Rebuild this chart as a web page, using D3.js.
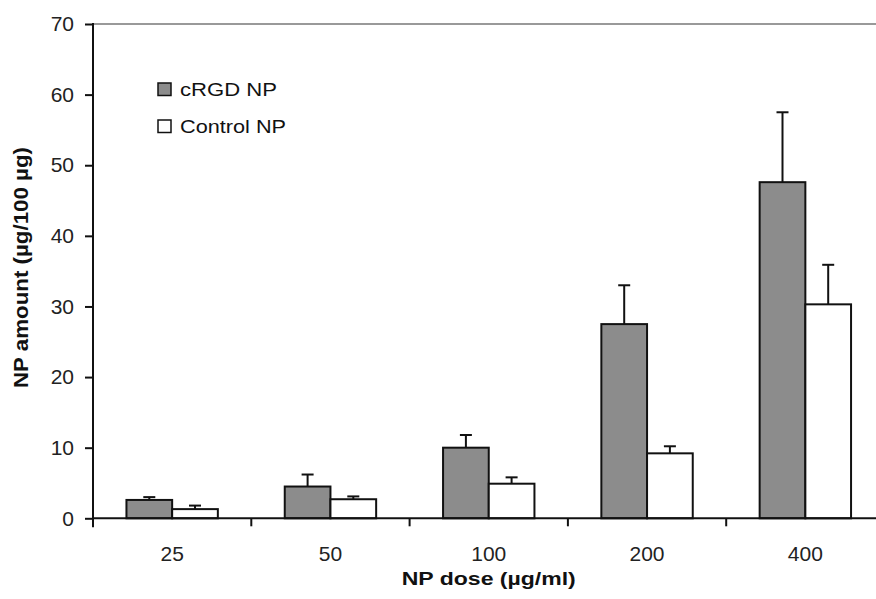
<!DOCTYPE html>
<html>
<head>
<meta charset="utf-8">
<script src="https://cdn.jsdelivr.net/npm/d3@7"></script>
<style>
  html, body { margin: 0; padding: 0; background: #fff; }
  svg { display: block; font-family: "Liberation Sans", Arial, sans-serif; }
</style>
</head>
<body>
<svg id="chart" width="876" height="599"></svg>
<script>
const categories = ["25", "50", "100", "200", "400"];
const seriesNames = ["cRGD NP", "Control NP"];
const cRGD = [2.6, 4.5, 10.0, 27.5, 47.6];
const cRGDErr = [0.4, 1.7, 1.8, 5.5, 9.9];
const control = [1.3, 2.7, 4.9, 9.2, 30.3];
const controlErr = [0.5, 0.4, 0.9, 1.0, 5.6];
const yTicks = [0, 10, 20, 30, 40, 50, 60, 70];
const seriesFill = ["#8c8c8c", "#ffffff"];

const svg = d3.select("#chart");
const plotLeft = 93, plotTop = 24, plotBottom = 518.3, bandStep = 158.3;

const x = d3.scaleBand().domain(categories)
  .range([plotLeft, plotLeft + bandStep * categories.length]).padding(0);
const x1 = d3.scaleBand().domain(seriesNames)
  .range([0, x.bandwidth()]).paddingInner(0).paddingOuter(0.732);
const y = d3.scaleLinear().domain([0, 70]).range([plotBottom, plotTop]);

const rows = categories.map((c, i) => ({
  cat: c,
  vals: [
    { s: seriesNames[0], v: cRGD[i], e: cRGDErr[i] },
    { s: seriesNames[1], v: control[i], e: controlErr[i] }
  ]
}));

// top border line
svg.append("line")
  .attr("x1", plotLeft).attr("x2", 876)
  .attr("y1", y(70)).attr("y2", y(70))
  .attr("stroke", "#777").attr("stroke-width", 1.5);

const g = svg.append("g");
// error bars
rows.forEach(r => {
  r.vals.forEach(d => {
    const cx = x(r.cat) + x1(d.s) + x1.bandwidth() / 2;
    g.append("line")
      .attr("x1", cx).attr("x2", cx)
      .attr("y1", y(d.v)).attr("y2", y(d.v + d.e))
      .attr("stroke", "#111").attr("stroke-width", 2);
    g.append("line")
      .attr("x1", cx - 6).attr("x2", cx + 6)
      .attr("y1", y(d.v + d.e)).attr("y2", y(d.v + d.e))
      .attr("stroke", "#111").attr("stroke-width", 2);
  });
});

// bars
rows.forEach(r => {
  r.vals.forEach((d, j) => {
    g.append("rect")
      .attr("x", x(r.cat) + x1(d.s))
      .attr("y", y(d.v))
      .attr("width", x1.bandwidth())
      .attr("height", y(0) - y(d.v))
      .attr("fill", seriesFill[j])
      .attr("stroke", "#111").attr("stroke-width", 2);
  });
});

// y axis
const yAxis = svg.append("g").attr("transform", `translate(${plotLeft},0)`)
  .call(d3.axisLeft(y).tickValues(yTicks).tickSize(8).tickPadding(11).tickFormat(d3.format("d")));
yAxis.select(".domain").remove();
yAxis.selectAll(".tick line").attr("stroke", "#111").attr("stroke-width", 2);
yAxis.selectAll(".tick text").attr("font-size", 21).attr("fill", "#222")
  .attr("font-family", "Liberation Sans, Arial, sans-serif");
svg.append("line").attr("x1", plotLeft).attr("x2", plotLeft)
  .attr("y1", plotTop - 1).attr("y2", plotBottom + 9)
  .attr("stroke", "#111").attr("stroke-width", 2);

// x axis
svg.append("line").attr("x1", plotLeft).attr("x2", 876)
  .attr("y1", plotBottom).attr("y2", plotBottom)
  .attr("stroke", "#111").attr("stroke-width", 2);
categories.forEach((c, i) => {
  if (i > 0) {
    svg.append("line")
      .attr("x1", x(c)).attr("x2", x(c))
      .attr("y1", plotBottom).attr("y2", plotBottom + 8)
      .attr("stroke", "#111").attr("stroke-width", 2);
  }
  svg.append("text")
    .attr("x", x(c) + x.bandwidth() / 2)
    .attr("y", 561)
    .attr("text-anchor", "middle")
    .attr("font-size", 21).attr("fill", "#222")
    .text(c);
});

// axis titles
svg.append("text")
  .attr("x", (x.range()[0] + x.range()[1]) / 2)
  .attr("y", 585)
  .attr("text-anchor", "middle")
  .attr("font-size", 19).attr("font-weight", "bold").attr("fill", "#111")
  .attr("textLength", 174).attr("lengthAdjust", "spacingAndGlyphs")
  .text("NP dose (µg/ml)");
svg.append("text")
  .attr("transform", `translate(28,267.5) rotate(-90)`)
  .attr("text-anchor", "middle")
  .attr("font-size", 20).attr("font-weight", "bold").attr("fill", "#111")
  .attr("textLength", 241).attr("lengthAdjust", "spacingAndGlyphs")
  .text("NP amount (µg/100 µg)");

// legend
const legendWidths = [97, 106];
const legend = svg.append("g");
seriesNames.forEach((s, i) => {
  const ly = 83 + i * 37;
  legend.append("rect")
    .attr("x", 158).attr("y", ly).attr("width", 13).attr("height", 12.5)
    .attr("fill", seriesFill[i]).attr("stroke", "#111").attr("stroke-width", 1.5);
  legend.append("text")
    .attr("x", 180).attr("y", ly + 12.5)
    .attr("font-size", 19).attr("fill", "#111")
    .attr("textLength", legendWidths[i]).attr("lengthAdjust", "spacingAndGlyphs")
    .text(s);
});
</script>
</body>
</html>
